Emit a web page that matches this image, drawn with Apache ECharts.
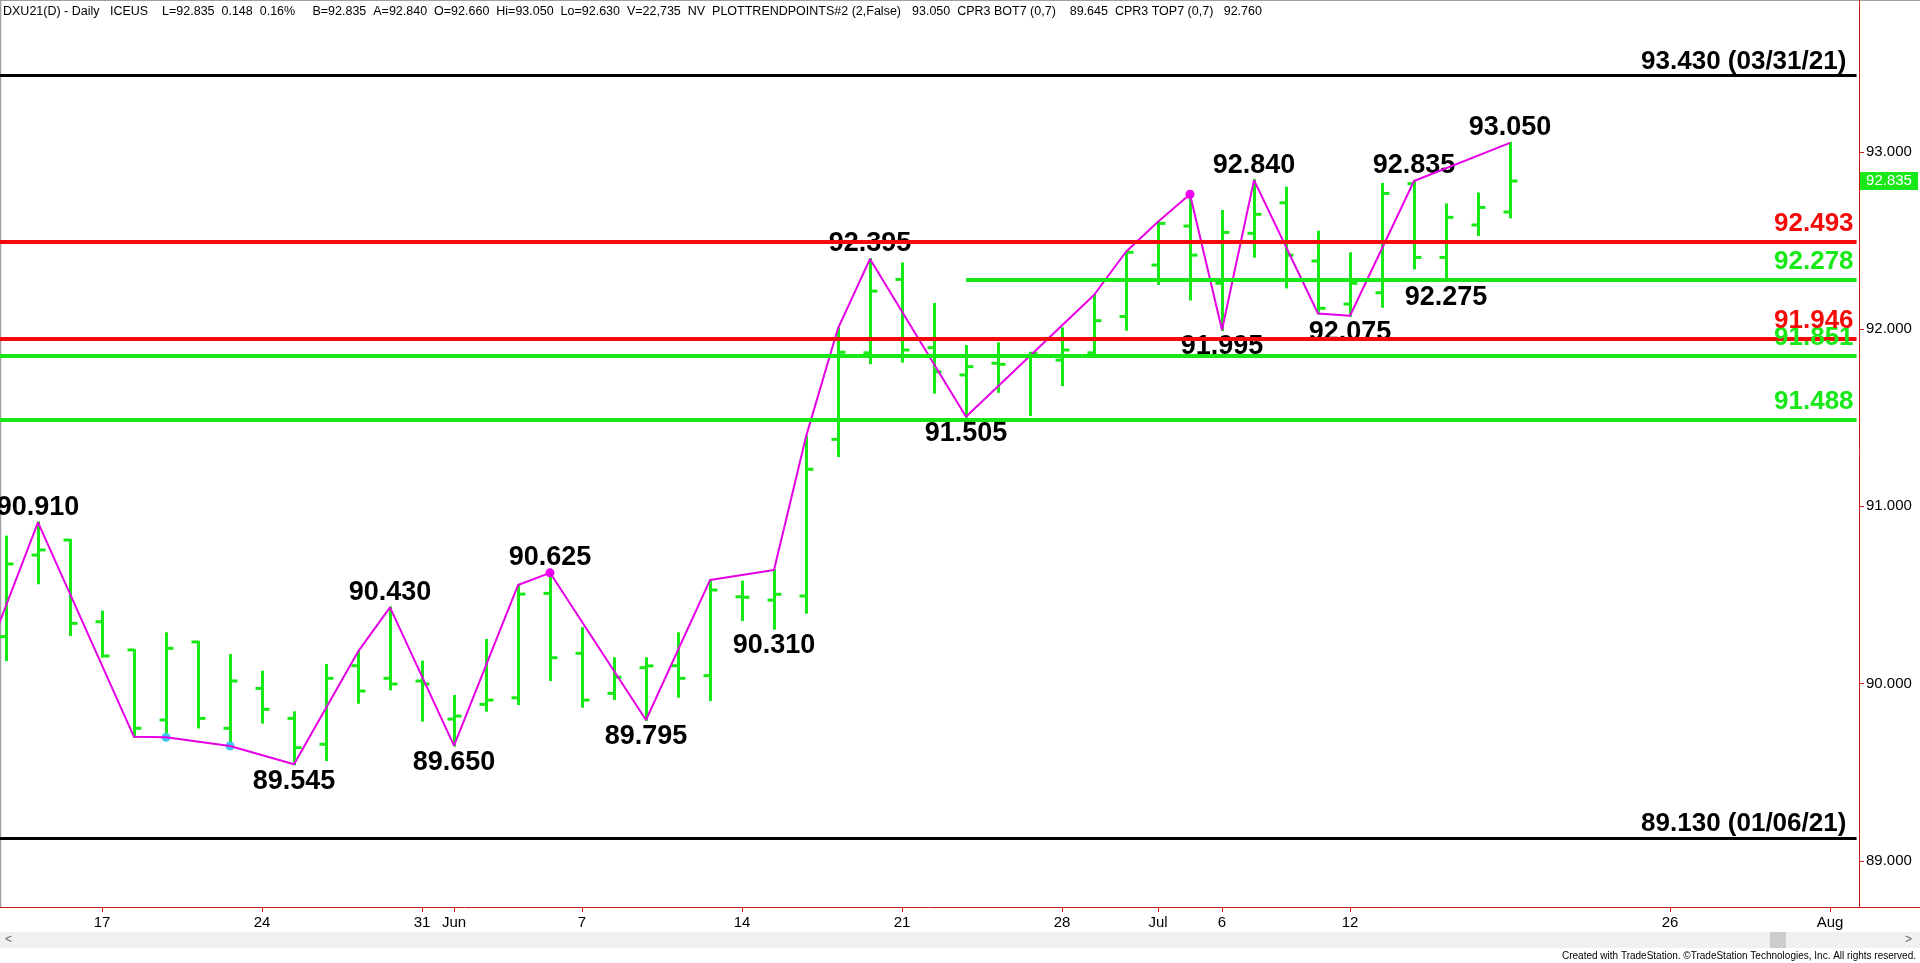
<!DOCTYPE html>
<html><head><meta charset="utf-8">
<script src="https://cdn.jsdelivr.net/npm/echarts@6/dist/echarts.min.js"></script>
<style>html,body{margin:0;padding:0;background:#fff;overflow:hidden}#c{width:1920px;height:963px}</style>
</head><body><div id="c"></div>
<script>
// ---------------- data ----------------
const priorDates = ['2021-05-11'];
const dates = ['2021-05-12','2021-05-13','2021-05-14','2021-05-17','2021-05-18','2021-05-19','2021-05-20','2021-05-21','2021-05-24','2021-05-25','2021-05-26','2021-05-27','2021-05-28','2021-05-31',
 '2021-06-01','2021-06-02','2021-06-03','2021-06-04','2021-06-07','2021-06-08','2021-06-09','2021-06-10','2021-06-11','2021-06-14','2021-06-15','2021-06-16','2021-06-17','2021-06-18','2021-06-21','2021-06-22','2021-06-23','2021-06-24','2021-06-25','2021-06-28','2021-06-29','2021-06-30',
 '2021-07-01','2021-07-02','2021-07-06','2021-07-07','2021-07-08','2021-07-09','2021-07-12','2021-07-13','2021-07-14','2021-07-15','2021-07-16','2021-07-19'];
const futureDates = ['2021-07-20','2021-07-21','2021-07-22','2021-07-23','2021-07-26','2021-07-27','2021-07-28','2021-07-29','2021-07-30','2021-08-02','2021-08-03'];

const opens  = [90.265,90.725,90.810,90.349,90.190,89.795,90.235,89.748,89.973,89.804,89.658,90.101,90.030,90.015,
 89.800,89.883,89.920,90.509,90.171,89.945,90.090,90.101,90.045,90.490,90.471,90.494,91.378,91.866,92.280,91.895,91.741,91.807,91.848,91.825,91.866,92.071,
 92.361,92.581,92.258,92.540,92.712,92.384,92.141,92.205,92.820,92.404,92.587,92.660];
const highs  = [90.829,90.910,90.810,90.406,90.190,90.284,90.236,90.161,90.067,89.838,90.105,90.180,90.430,90.124,
 89.930,90.246,90.556,90.625,90.312,90.143,90.143,90.284,90.584,90.575,90.641,91.393,92.004,92.395,92.370,92.141,91.904,91.919,91.866,92.004,92.192,92.436,
 92.605,92.760,92.666,92.840,92.797,92.549,92.427,92.818,92.835,92.703,92.765,93.050];
const lows   = [90.133,90.566,90.274,90.152,89.700,89.697,89.753,89.644,89.780,89.545,89.569,89.892,89.968,89.791,
 89.650,89.847,89.885,90.020,89.870,89.913,89.795,89.926,89.907,90.359,90.310,90.400,91.284,91.807,91.816,91.641,91.505,91.646,91.515,91.684,91.866,91.996,
 92.254,92.167,91.995,92.408,92.235,92.088,92.075,92.126,92.342,92.275,92.530,92.630];
const closes = [90.675,90.754,90.340,90.156,89.748,90.199,89.804,90.015,89.855,89.639,90.030,89.958,89.998,89.998,
 89.817,89.907,90.505,90.146,89.907,90.036,90.100,90.030,90.528,90.487,90.504,91.209,91.869,92.214,91.882,91.759,91.788,91.801,91.863,91.882,92.047,92.433,
 92.596,92.417,92.545,92.647,92.417,92.117,92.258,92.765,92.404,92.630,92.686,92.835];

const zigzagDates = ['2021-05-11','2021-05-13','2021-05-18','2021-05-19','2021-05-21','2021-05-25','2021-05-27','2021-05-28','2021-06-01','2021-06-03','2021-06-04','2021-06-09','2021-06-11','2021-06-15',
 '2021-06-16','2021-06-17','2021-06-18','2021-06-23','2021-06-29','2021-06-30','2021-07-01','2021-07-02','2021-07-06','2021-07-07','2021-07-09','2021-07-12','2021-07-14','2021-07-19'];
const zigzagValues = [89.97,90.910,89.700,89.697,89.648,89.545,90.180,90.430,89.650,90.556,90.625,89.795,90.584,90.641,
 91.393,92.004,92.395,91.505,92.192,92.436,92.605,92.760,91.995,92.840,92.088,92.075,92.835,93.050];

const swingHighDates  = ['2021-05-13','2021-05-28','2021-06-04','2021-06-18','2021-07-07','2021-07-14','2021-07-19'];
const swingHighValues = [90.910,90.430,90.625,92.395,92.840,92.835,93.050];
const swingLowDates   = ['2021-05-25','2021-06-01','2021-06-09','2021-06-15','2021-06-23','2021-07-06','2021-07-12','2021-07-15'];
const swingLowValues  = [89.545,89.650,89.795,90.310,91.505,91.995,92.075,92.275];

const cprBotDates  = ['2021-05-19','2021-05-21'];
const cprBotValues = [89.697,89.648];
const cprTopDates  = ['2021-06-04','2021-07-02'];
const cprTopValues = [90.625,92.760];

const extremeLevels = [93.430, 89.130];
const extremeDates  = ['03/31/21', '01/06/21'];
const redLevels   = [92.493, 91.946];
const greenLevels = [92.278, 91.851, 91.488];
const greenLevelStart = ['2021-06-23', null, null];

const priceTicks = [89, 90, 91, 92, 93];
const tickDates  = ['2021-05-17','2021-05-24','2021-05-31','2021-06-01','2021-06-07','2021-06-14','2021-06-21','2021-06-28','2021-07-01','2021-07-06','2021-07-12','2021-07-26','2021-08-02'];
const tickLabels = ['17','24','31','Jun','7','14','21','28','Jul','6','12','26','Aug'];

const headerLeft  = [['g','DXU21(D) - Daily   ICEUS    L=92.835  0.148  0.16%']];
const headerMid   = [['k','B=92.835  A=92.840  '],['g','O=92.660'],['k','  Hi=93.050  Lo=92.630  V=22,735  NV  PLOTTRENDPOINTS#2 (2,False)']];
const headerRight = [['m','93.050'],['k','  CPR3 BOT7 (0,7)    '],['c','89.645'],['k','  CPR3 TOP7 (0,7)   '],['m','92.760']];

// ---------------- chart ----------------
const FONT = '"Liberation Sans", Arial, sans-serif';
const GREEN = '#18e818', RED = '#f50a0a', MAGENTA = '#e600e6', CYAN = '#3cc8f0', AXISRED = '#d01818';
const axisDates = priorDates.concat(dates, futureDates);
const xOf = d => axisDates.indexOf(d) - priorDates.length;
const X_MIN = -0.1875, X_MAX = 57.906, LINE_END = 57.83;
const Y_MIN = 88.740, Y_MAX = 93.856;
const tickIdx = tickDates.map(xOf);

const chart = echarts.init(document.getElementById('c'));

function renderOHLC(params, api) {
  const x = api.value(0);
  const o = api.coord([x, api.value(1)]);
  const c = api.coord([x, api.value(2)]);
  const l = api.coord([x, api.value(3)]);
  const h = api.coord([x, api.value(4)]);
  const px = Math.round(o[0]) + 0.5;
  const st = {stroke: GREEN, lineWidth: 3};
  return {type: 'group', children: [
    {type: 'line', shape: {x1: px, y1: h[1] - 1, x2: px, y2: l[1] + 1}, style: st},
    {type: 'line', shape: {x1: px - 7, y1: o[1], x2: px, y2: o[1]}, style: st},
    {type: 'line', shape: {x1: px, y1: c[1], x2: px + 7, y2: c[1]}, style: st}
  ]};
}

function levelSeries(values, color, width, texts, starts, dist) {
  return {
    type: 'line', data: [], silent: true,
    markLine: {
      symbol: ['none', 'none'], silent: true, animation: false,
      lineStyle: {color: color, width: width, type: 'solid', opacity: 1},
      label: {show: true, position: 'insideEndTop', formatter: '{b}', color: color,
              fontSize: 26, fontWeight: 'bold', fontFamily: FONT, distance: dist},
      emphasis: {disabled: true},
      data: values.map((v, i) => [
        {name: texts[i], coord: [starts && starts[i] ? xOf(starts[i]) : X_MIN, v]},
        {coord: [LINE_END, v]}
      ])
    }
  };
}

const FS = 12.5;
const rich = {
  g: {color: GREEN, fontSize: FS, fontFamily: FONT},
  k: {color: '#000', fontSize: FS, fontFamily: FONT},
  m: {color: MAGENTA, fontSize: FS, fontFamily: FONT},
  c: {color: CYAN, fontSize: FS, fontFamily: FONT}
};
const richStr = parts => parts.map(p => '{' + p[0] + '|' + p[1] + '}').join('');
const lastClose = closes[closes.length - 1];

chart.setOption({
  animation: false,
  backgroundColor: '#fff',
  grid: {left: 0, right: 61, top: 0, bottom: 56, containLabel: false},
  xAxis: {
    type: 'value', min: X_MIN, max: X_MAX,
    axisLine: {show: true, onZero: false, lineStyle: {color: AXISRED, width: 1}},
    axisTick: {show: true, customValues: tickIdx, length: 5, lineStyle: {color: AXISRED}},
    axisLabel: {show: true, customValues: tickIdx, margin: 8, color: '#000', fontSize: 15, fontFamily: FONT,
      formatter: v => { const i = tickIdx.indexOf(Math.round(v)); return i >= 0 ? tickLabels[i] : ''; }},
    splitLine: {show: false}
  },
  yAxis: {
    type: 'value', position: 'right', min: Y_MIN, max: Y_MAX, scale: true,
    axisLine: {show: true, onZero: false, lineStyle: {color: AXISRED, width: 1}},
    axisTick: {show: true, customValues: priceTicks, length: 5, lineStyle: {color: AXISRED}},
    axisLabel: {show: true, customValues: priceTicks, margin: 7, color: '#000', fontSize: 15, fontFamily: FONT,
      formatter: v => v.toFixed(3)},
    splitLine: {show: false}
  },
  series: [
    levelSeries(extremeLevels, '#000', 3, extremeLevels.map((v, i) => v.toFixed(3) + ' (' + extremeDates[i] + ') '), null, [3, 1]),
    levelSeries(greenLevels, GREEN, 4, greenLevels.map(v => v.toFixed(3)), greenLevelStart, [3, 5]),
    levelSeries(redLevels, RED, 4, redLevels.map(v => v.toFixed(3)), null, [3, 5]),
    {
      type: 'custom', renderItem: renderOHLC, clip: false, silent: true,
      encode: {x: 0, y: [1, 2, 3, 4]},
      data: dates.map((d, i) => [xOf(d), opens[i], closes[i], lows[i], highs[i]])
    },
    {
      type: 'line', data: zigzagDates.map((d, i) => [xOf(d), zigzagValues[i]]),
      symbol: 'none', silent: true, clip: true,
      lineStyle: {color: MAGENTA, width: 2}
    },
    {
      type: 'scatter', data: cprBotDates.map((d, i) => [xOf(d), cprBotValues[i]]),
      symbolSize: 9, itemStyle: {color: CYAN, opacity: 1}, silent: true
    },
    {
      type: 'scatter', data: cprTopDates.map((d, i) => [xOf(d), cprTopValues[i]]),
      symbolSize: 9, itemStyle: {color: '#f000f0', opacity: 1}, silent: true
    },
    {
      type: 'scatter', data: swingHighDates.map((d, i) => [xOf(d), swingHighValues[i]]),
      symbolSize: 1, itemStyle: {color: 'rgba(0,0,0,0)'}, silent: true, clip: false,
      label: {show: true, position: 'top', distance: 1, formatter: p => p.value[1].toFixed(3),
        color: '#000', opacity: 1, fontSize: 27, fontWeight: 'bold', fontFamily: FONT}
    },
    {
      type: 'scatter', data: swingLowDates.map((d, i) => [xOf(d), swingLowValues[i]]),
      symbolSize: 1, itemStyle: {color: 'rgba(0,0,0,0)'}, silent: true, clip: false,
      label: {show: true, position: 'bottom', distance: 3, formatter: p => p.value[1].toFixed(3),
        color: '#000', opacity: 1, fontSize: 27, fontWeight: 'bold', fontFamily: FONT}
    },
    {
      type: 'scatter', data: [[X_MAX, lastClose]], clip: false, silent: true, z: 10,
      symbol: 'rect', symbolSize: [58, 18], symbolOffset: [30, 0],
      itemStyle: {color: GREEN, opacity: 1},
      label: {show: true, position: 'inside', formatter: p => p.value[1].toFixed(3),
        color: '#fff', fontSize: 15, fontFamily: FONT}
    }
  ],
  graphic: [
    {type: 'line', silent: true, shape: {x1: 0, y1: 0.5, x2: 1920, y2: 0.5}, style: {stroke: '#a0a0a0', lineWidth: 1}},
    {type: 'line', silent: true, shape: {x1: 0.5, y1: 0, x2: 0.5, y2: 907}, style: {stroke: '#a0a0a0', lineWidth: 1.5}},
    {type: 'line', silent: true, shape: {x1: 1859, y1: 907.5, x2: 1920, y2: 907.5}, style: {stroke: AXISRED, lineWidth: 1}},
    {type: 'rect', silent: true, shape: {x: 0, y: 932, width: 1920, height: 16}, style: {fill: '#f0f0f0'}},
    {type: 'rect', silent: true, shape: {x: 1770, y: 932, width: 16, height: 16}, style: {fill: '#cdcdcd'}},
    {type: 'text', silent: true, x: 5, y: 940, style: {text: '<', fill: '#606060', font: '12px ' + FONT, verticalAlign: 'middle'}},
    {type: 'text', silent: true, x: 1905, y: 940, style: {text: '>', fill: '#606060', font: '12px ' + FONT, verticalAlign: 'middle'}},
    {type: 'text', silent: true, x: 1916, y: 956, style: {text: 'Created with TradeStation. \u00A9TradeStation Technologies, Inc. All rights reserved.',
      fill: '#000', font: '10px ' + FONT, align: 'right', verticalAlign: 'middle'}},
    {type: 'text', silent: true, x: 3, y: 12, style: {text: richStr(headerLeft), rich: rich, font: FS + 'px ' + FONT, verticalAlign: 'middle'}},
    {type: 'text', silent: true, x: 901, y: 12, style: {text: richStr(headerMid), rich: rich, font: FS + 'px ' + FONT, align: 'right', verticalAlign: 'middle'}},
    {type: 'text', silent: true, x: 912, y: 12, style: {text: richStr(headerRight), rich: rich, font: FS + 'px ' + FONT, verticalAlign: 'middle'}}
  ]
});
</script></body></html>
